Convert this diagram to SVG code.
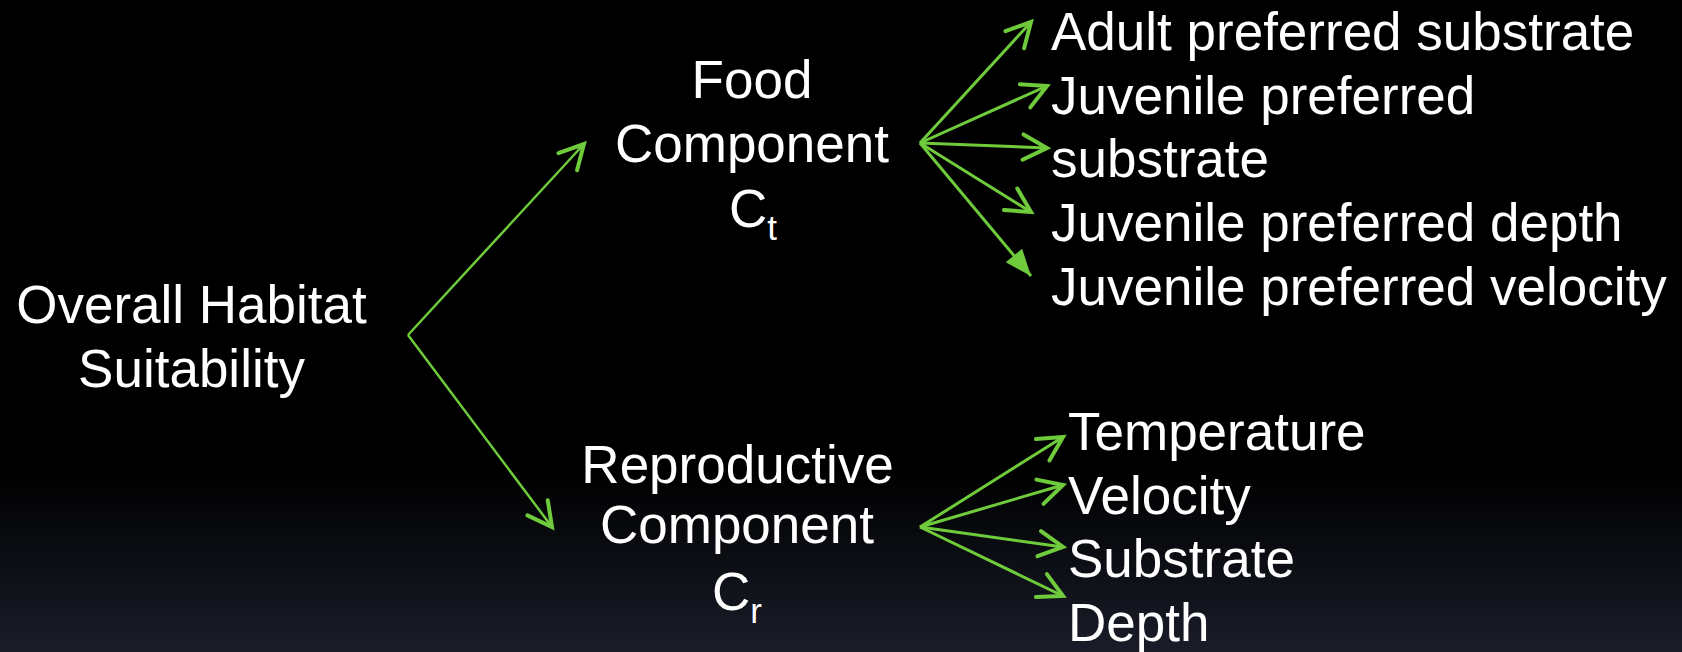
<svg xmlns="http://www.w3.org/2000/svg" width="1682" height="652" viewBox="0 0 1682 652">
<defs>
<linearGradient id="bg" x1="0" y1="0" x2="0" y2="1">
<stop offset="0" stop-color="#000000"/>
<stop offset="0.72" stop-color="#000000"/>
<stop offset="0.86" stop-color="#0c0e14"/>
<stop offset="1" stop-color="#1a1d29"/>
</linearGradient>
<marker id="open" markerUnits="userSpaceOnUse" markerWidth="40" markerHeight="40" viewBox="-25 -15 30 30" refX="0" refY="0" orient="auto">
<path d="M-18,-9.5 L0,0 L-18,9.5" fill="none" stroke="#6fcb3b" stroke-width="3" stroke-linecap="round" stroke-linejoin="miter"/>
</marker>
<marker id="solid" markerUnits="userSpaceOnUse" markerWidth="40" markerHeight="40" viewBox="-25 -15 30 30" refX="0" refY="0" orient="auto">
<path d="M-20,-8 L0,0 L-20,8 Z" fill="#6fcb3b"/>
</marker>
<style>
.t{font-family:"Liberation Sans",Arial,sans-serif;fill:#ffffff;font-size:53px}
.c{text-anchor:middle}
.ln{stroke:#6fcb3b;stroke-width:2.5;fill:none;marker-end:url(#open)}
.ln2{stroke:#6fcb3b;stroke-width:3;fill:none;marker-end:url(#open)}
</style>
</defs>
<rect x="0" y="0" width="1682" height="652" fill="url(#bg)"/>
<g id="connectors">
<line class="ln" x1="408" y1="335" x2="584" y2="144"/>
<line class="ln" x1="408" y1="335" x2="552" y2="527"/>
<line class="ln2" x1="920" y1="143" x2="1031" y2="22"/>
<line class="ln2" x1="920" y1="143" x2="1047" y2="86"/>
<line class="ln2" x1="920" y1="143" x2="1047" y2="148"/>
<line class="ln2" x1="920" y1="143" x2="1031" y2="212"/>
<line class="ln2" x1="920" y1="143" x2="1031" y2="276" style="marker-end:url(#solid)"/>
<line class="ln2" x1="920" y1="527" x2="1063" y2="437"/>
<line class="ln2" x1="920" y1="527" x2="1063" y2="485"/>
<line class="ln2" x1="920" y1="527" x2="1063" y2="547"/>
<line class="ln2" x1="920" y1="527" x2="1063" y2="596"/>
</g>
<g id="overall">
<text class="t c" x="191.5" y="323">Overall Habitat</text>
<text class="t c" x="191.5" y="387">Suitability</text>
</g>
<g id="food">
<text class="t c" x="752" y="98">Food</text>
<text class="t c" x="752" y="162">Component</text>
<text class="t" x="729" y="227">C<tspan font-size="35" dy="13">t</tspan></text>
</g>
<g id="reproductive">
<text class="t c" x="737.5" y="483">Reproductive</text>
<text class="t c" x="737" y="543">Component</text>
<text class="t" x="712" y="610">C<tspan font-size="35" dy="13">r</tspan></text>
</g>
<g id="food-factors">
<text class="t" x="1051" y="50">Adult preferred substrate</text>
<text class="t" x="1051" y="114">Juvenile preferred</text>
<text class="t" x="1051" y="177">substrate</text>
<text class="t" x="1051" y="241">Juvenile preferred depth</text>
<text class="t" x="1051" y="305">Juvenile preferred velocity</text>
</g>
<g id="repro-factors">
<text class="t" x="1068" y="450" font-size="52">Temperature</text>
<text class="t" x="1068" y="514" font-size="52">Velocity</text>
<text class="t" x="1068" y="577" font-size="52">Substrate</text>
<text class="t" x="1068" y="641" font-size="52">Depth</text>
</g>
</svg>
